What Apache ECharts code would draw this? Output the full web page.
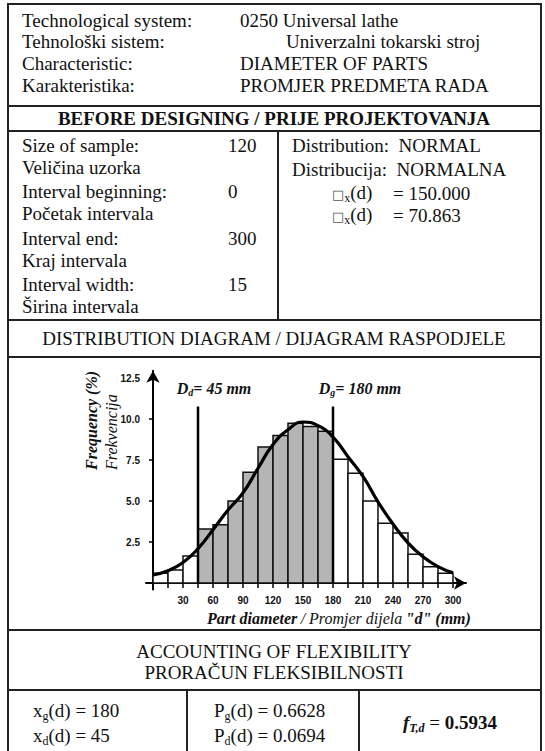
<!DOCTYPE html>
<html><head><meta charset="utf-8">
<script src="https://cdn.jsdelivr.net/npm/echarts@6/dist/echarts.min.js"></script>
<style>
html,body{margin:0;padding:0;background:#fff;}
#page{position:relative;width:545px;height:751px;overflow:hidden;font-family:"Liberation Serif","Times New Roman",serif;color:#111;}
#chart{position:absolute;left:0;top:0;width:545px;height:751px;}
.t{position:absolute;font-size:19px;line-height:21px;white-space:nowrap;transform:translateY(-50%);}
.c{left:7px;width:534px;text-align:center;}
.hl{position:absolute;height:2px;background:#222;}
.vl{position:absolute;width:2px;background:#222;}
sub{font-size:12px;vertical-align:-3px;line-height:0;}
.box{font-family:"DejaVu Sans",sans-serif;font-size:13px;color:#555;}
</style></head>
<body>
<div id="page">
  <div id="chart"></div>
  <!-- table lines -->
  <div class="hl" style="left:7px;top:3px;width:535px;"></div>
  <div class="vl" style="left:7px;top:3px;height:760px;"></div>
  <div class="vl" style="left:540px;top:3px;height:760px;"></div>
  <div class="hl" style="left:7px;top:105px;width:535px;"></div>
  <div class="hl" style="left:7px;top:130px;width:535px;"></div>
  <div class="vl" style="left:277px;top:130px;height:190px;"></div>
  <div class="hl" style="left:7px;top:319px;width:535px;"></div>
  <div class="hl" style="left:7px;top:356px;width:535px;"></div>
  <div class="hl" style="left:7px;top:629px;width:535px;"></div>
  <div class="hl" style="left:7px;top:689px;width:535px;"></div>
  <div class="vl" style="left:186px;top:689px;height:70px;"></div>
  <div class="vl" style="left:358px;top:689px;height:70px;"></div>

  <!-- header -->
  <div class="t" style="left:22px;top:20px;">Technological system:</div>
  <div class="t" style="left:240px;top:20px;">0250 Universal lathe</div>
  <div class="t" style="left:22px;top:41px;">Tehnološki sistem:</div>
  <div class="t" style="left:286px;top:41px;">Univerzalni tokarski stroj</div>
  <div class="t" style="left:22px;top:63px;">Characteristic:</div>
  <div class="t" style="left:240px;top:63px;">DIAMETER OF PARTS</div>
  <div class="t" style="left:22px;top:85px;">Karakteristika:</div>
  <div class="t" style="left:240px;top:85px;">PROMJER PREDMETA RADA</div>

  <div class="t c" style="top:118px;font-weight:bold;">BEFORE DESIGNING / PRIJE PROJEKTOVANJA</div>

  <div class="t" style="left:22px;top:145px;">Size of sample:</div>
  <div class="t" style="left:228px;top:145px;">120</div>
  <div class="t" style="left:22px;top:167px;">Veličina uzorka</div>
  <div class="t" style="left:22px;top:191px;">Interval beginning:</div>
  <div class="t" style="left:228px;top:191px;">0</div>
  <div class="t" style="left:22px;top:213px;">Početak intervala</div>
  <div class="t" style="left:22px;top:238px;">Interval end:</div>
  <div class="t" style="left:228px;top:238px;">300</div>
  <div class="t" style="left:22px;top:260px;">Kraj intervala</div>
  <div class="t" style="left:22px;top:284px;">Interval width:</div>
  <div class="t" style="left:228px;top:284px;">15</div>
  <div class="t" style="left:22px;top:306px;">Širina intervala</div>

  <div class="t" style="left:292px;top:145px;">Distribution:&nbsp; NORMAL</div>
  <div class="t" style="left:292px;top:169px;">Distribucija:&nbsp; NORMALNA</div>
  <div class="t" style="left:332px;top:193px;"><span class="box">□</span><sub>x</sub>(d)</div>
  <div class="t" style="left:393px;top:193px;">= 150.000</div>
  <div class="t" style="left:332px;top:215px;"><span class="box">□</span><sub>x</sub>(d)</div>
  <div class="t" style="left:393px;top:215px;">= 70.863</div>

  <div class="t c" style="top:338px;">DISTRIBUTION DIAGRAM / DIJAGRAM RASPODJELE</div>

  <div class="t c" style="top:651px;">ACCOUNTING OF FLEXIBILITY</div>
  <div class="t c" style="top:672px;">PRORAČUN FLEKSIBILNOSTI</div>

  <div class="t" style="left:33px;top:710px;">x<sub>g</sub>(d) = 180</div>
  <div class="t" style="left:33px;top:735px;">x<sub>d</sub>(d) = 45</div>
  <div class="t" style="left:214px;top:710px;">P<sub>g</sub>(d) = 0.6628</div>
  <div class="t" style="left:214px;top:735px;">P<sub>d</sub>(d) = 0.0694</div>
  <div class="t" style="left:359px;width:182px;text-align:center;top:722px;"><b><i>f</i><sub><i>T,d</i></sub></b> = <b>0.5934</b></div>
</div>
<script>
// ---- data ----
const binStarts = [0,15,30,45,60,75,90,105,120,135,150,165,180,195,210,225,240,255,270,285];
const binWidth = 15;
const frequency = [0.6,0.8,1.65,3.3,3.55,5.0,6.75,8.3,9.0,9.75,9.55,9.25,7.55,6.7,5.0,3.65,3.05,1.75,1.0,0.6];
const curveX = [0,15,30,45,60,75,90,105,120,135,150,165,180,195,210,225,240,255,270,285,300];
const curveY = [0.5,0.75,1.25,2.1,3.25,4.45,5.5,7.0,8.45,9.35,9.82,9.6,8.9,7.7,6.5,4.95,3.6,2.45,1.6,1.0,0.62];
const xTickLabels = [30,60,90,120,150,180,210,240,270,300];
const xTickMarks = [0,15,30,45,60,75,90,105,120,135,150,165,180,195,210,225,240,255,270,285,300];
const yTickLabels = [2.5,5.0,7.5,10.0,12.5];
const lowerLimit = 45, upperLimit = 180;
const limitLineTop = 10.75;

const serif = '"Liberation Serif","Times New Roman",serif';
const sans = '"Liberation Sans",Arial,sans-serif';

const chart = echarts.init(document.getElementById('chart'), null, {renderer:'svg'});

const binData = binStarts.map((s,i)=>[s, s+binWidth, frequency[i], (s>=lowerLimit && s+binWidth<=upperLimit)?1:0]);
const curveData = curveX.map((x,i)=>[x, curveY[i]]);

function limitLabel(sub, val, off){
  return {
    show:true, position:'top', distance:8, offset:[off,0],
    formatter:'{m|D}{s|'+sub+'}{m|= '+val+' mm}',
    rich:{
      m:{fontFamily:serif,fontSize:16,fontWeight:'bold',fontStyle:'italic',color:'#111',lineHeight:20,verticalAlign:'middle'},
      s:{fontFamily:serif,fontSize:10,fontWeight:'bold',fontStyle:'italic',color:'#111',lineHeight:10,padding:[9,0,0,0],verticalAlign:'middle'}
    }
  };
}

chart.setOption({
  animation:false,
  grid:{left:146, right:79, top:370.7, bottom:161.4, containLabel:false, outerBoundsMode:'none'},
  xAxis:{
    type:'value', min:-7, max:313,
    axisLine:{onZero:true, symbol:['none','arrow'], symbolSize:[10,12], lineStyle:{color:'#000',width:2}},
    axisTick:{show:true, customValues:xTickMarks, length:5, lineStyle:{color:'#000',width:1.5}},
    axisLabel:{customValues:xTickLabels, fontFamily:sans, fontWeight:'bold', fontSize:10, color:'#111', margin:6},
    splitLine:{show:false},
    name:'{b|Part diameter} {i|/ Promjer dijela} {b|"d" (mm)}',
    nameLocation:'middle', nameGap:21, nameMoveOverlap:false,
    nameTextStyle:{align:'center', verticalAlign:'top', padding:[0,0,0,66],
      rich:{b:{fontFamily:serif,fontSize:16,fontWeight:'bold',fontStyle:'italic',color:'#111'},
            i:{fontFamily:serif,fontSize:16,fontStyle:'italic',color:'#111'}}}
  },
  yAxis:{
    type:'value', min:-0.4, max:12.95,
    axisLine:{onZero:true, symbol:['none','arrow'], symbolSize:[10,12], lineStyle:{color:'#000',width:2}},
    axisTick:{show:true, customValues:yTickLabels, length:4, lineStyle:{color:'#000',width:1.5}},
    axisLabel:{customValues:yTickLabels, formatter:v=>v.toFixed(1), fontFamily:sans, fontWeight:'bold', fontSize:10, color:'#111', margin:6},
    splitLine:{show:false}
  },
  graphic:[{
    type:'text', x:101, y:470, rotation:Math.PI/2,
    style:{text:'{a|Frequency (%)}\n{b|Frekvencija}', align:'left', verticalAlign:'middle',
      rich:{a:{fontFamily:serif,fontSize:16,fontWeight:'bold',fontStyle:'italic',fill:'#111',lineHeight:20},
            b:{fontFamily:serif,fontSize:16,fontStyle:'italic',fill:'#111',lineHeight:20}}}
  }],
  series:[
    {
      type:'custom', data:binData, z:2,
      encode:{x:[0,1], y:2},
      renderItem:(params, api)=>{
        const p0 = api.coord([api.value(0), api.value(2)]);
        const p1 = api.coord([api.value(1), 0]);
        return {type:'rect', shape:{x:p0[0], y:p0[1], width:p1[0]-p0[0], height:p1[1]-p0[1]},
          style:{fill: api.value(3) ? '#b5b5b5' : '#ffffff', stroke:'#111', lineWidth:1.5}};
      }
    },
    {
      type:'line', data:curveData, smooth:0.5, symbol:'none', z:4,
      lineStyle:{color:'#000', width:3.2}
    },
    {
      type:'line', data:[[lowerLimit,0],{value:[lowerLimit,limitLineTop], label:limitLabel('d','45',16)}],
      symbol:'circle', symbolSize:1, showSymbol:true, itemStyle:{color:'#000'}, z:5, lineStyle:{color:'#000', width:2.5}
    },
    {
      type:'line', data:[[upperLimit,0],{value:[upperLimit,limitLineTop], label:limitLabel('g','180',27)}],
      symbol:'circle', symbolSize:1, showSymbol:true, itemStyle:{color:'#000'}, z:5, lineStyle:{color:'#000', width:2.5}
    }
  ]
});
</script>
</body></html>
